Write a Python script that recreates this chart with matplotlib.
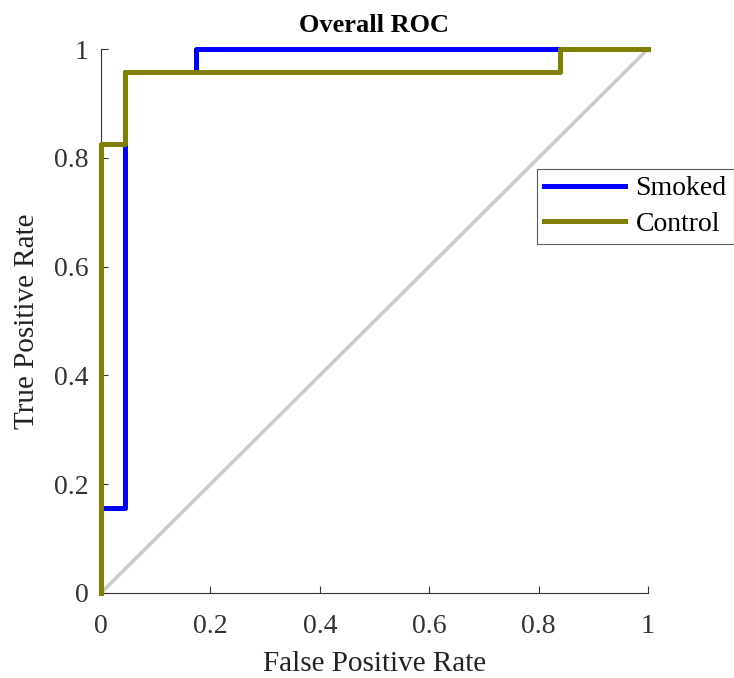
import numpy as np
import matplotlib.pyplot as plt

# ROC step curves
smoked_fpr = [0, 0, 0.043, 0.043, 0.174, 0.174, 1]
smoked_tpr = [0, 0.157, 0.157, 0.957, 0.957, 1, 1]

control_fpr = [0, 0, 0.043, 0.043, 0.84, 0.84, 1]
control_tpr = [0, 0.826, 0.826, 0.957, 0.957, 1, 1]

ticks = [0, 0.2, 0.4, 0.6, 0.8, 1]
tick_labels = ['0', '0.2', '0.4', '0.6', '0.8', '1']

plt.rcParams['font.family'] = ['Liberation Serif', 'DejaVu Serif']

fig = plt.figure(figsize=(7.34, 6.78), dpi=100)
ax = fig.add_axes([0.1376, 0.1254, 0.7452, 0.8023])

ax.plot([0, 1], [0, 1], color='#cccccc', lw=2.6, zorder=1, clip_on=False)
ax.plot(smoked_fpr, smoked_tpr, color='#0000ff', lw=3.6, label='Smoked', zorder=2, clip_on=False)
ax.plot(control_fpr, control_tpr, color='#808000', lw=3.6, label='Control', zorder=3, clip_on=False)

ax.set_xlim(0, 1)
ax.set_ylim(0, 1)
ax.set_xticks(ticks)
ax.set_xticklabels(tick_labels)
ax.set_yticks(ticks)
ax.set_yticklabels(tick_labels)
ax.tick_params(direction='in', length=5, width=0.8, labelsize=20, colors='#333333')
ax.tick_params(axis='x', pad=15)
ax.tick_params(axis='y', pad=9)
ax.spines['top'].set_visible(False)
ax.spines['right'].set_visible(False)
for s in ['left', 'bottom']:
    ax.spines[s].set_color('#333333')
    ax.spines[s].set_linewidth(0.8)

ax.set_xlabel('False Positive Rate', fontsize=21, color='#222222', labelpad=9)
ax.set_ylabel('True Positive Rate', fontsize=21, color='#222222', labelpad=10)
ax.set_title('Overall ROC', fontsize=19, fontweight='bold', pad=12)

leg = ax.legend(loc='upper left', bbox_to_anchor=(537 / 734, 1 - 169 / 678),
                bbox_transform=fig.transFigure, fontsize=20, frameon=True,
                fancybox=False, handlelength=2.9, borderpad=0.25,
                labelspacing=0.35, handletextpad=0.4, borderaxespad=0)
leg.get_frame().set_edgecolor('#333333')
leg.get_frame().set_linewidth(0.8)

plt.savefig('out.png', dpi=100)
